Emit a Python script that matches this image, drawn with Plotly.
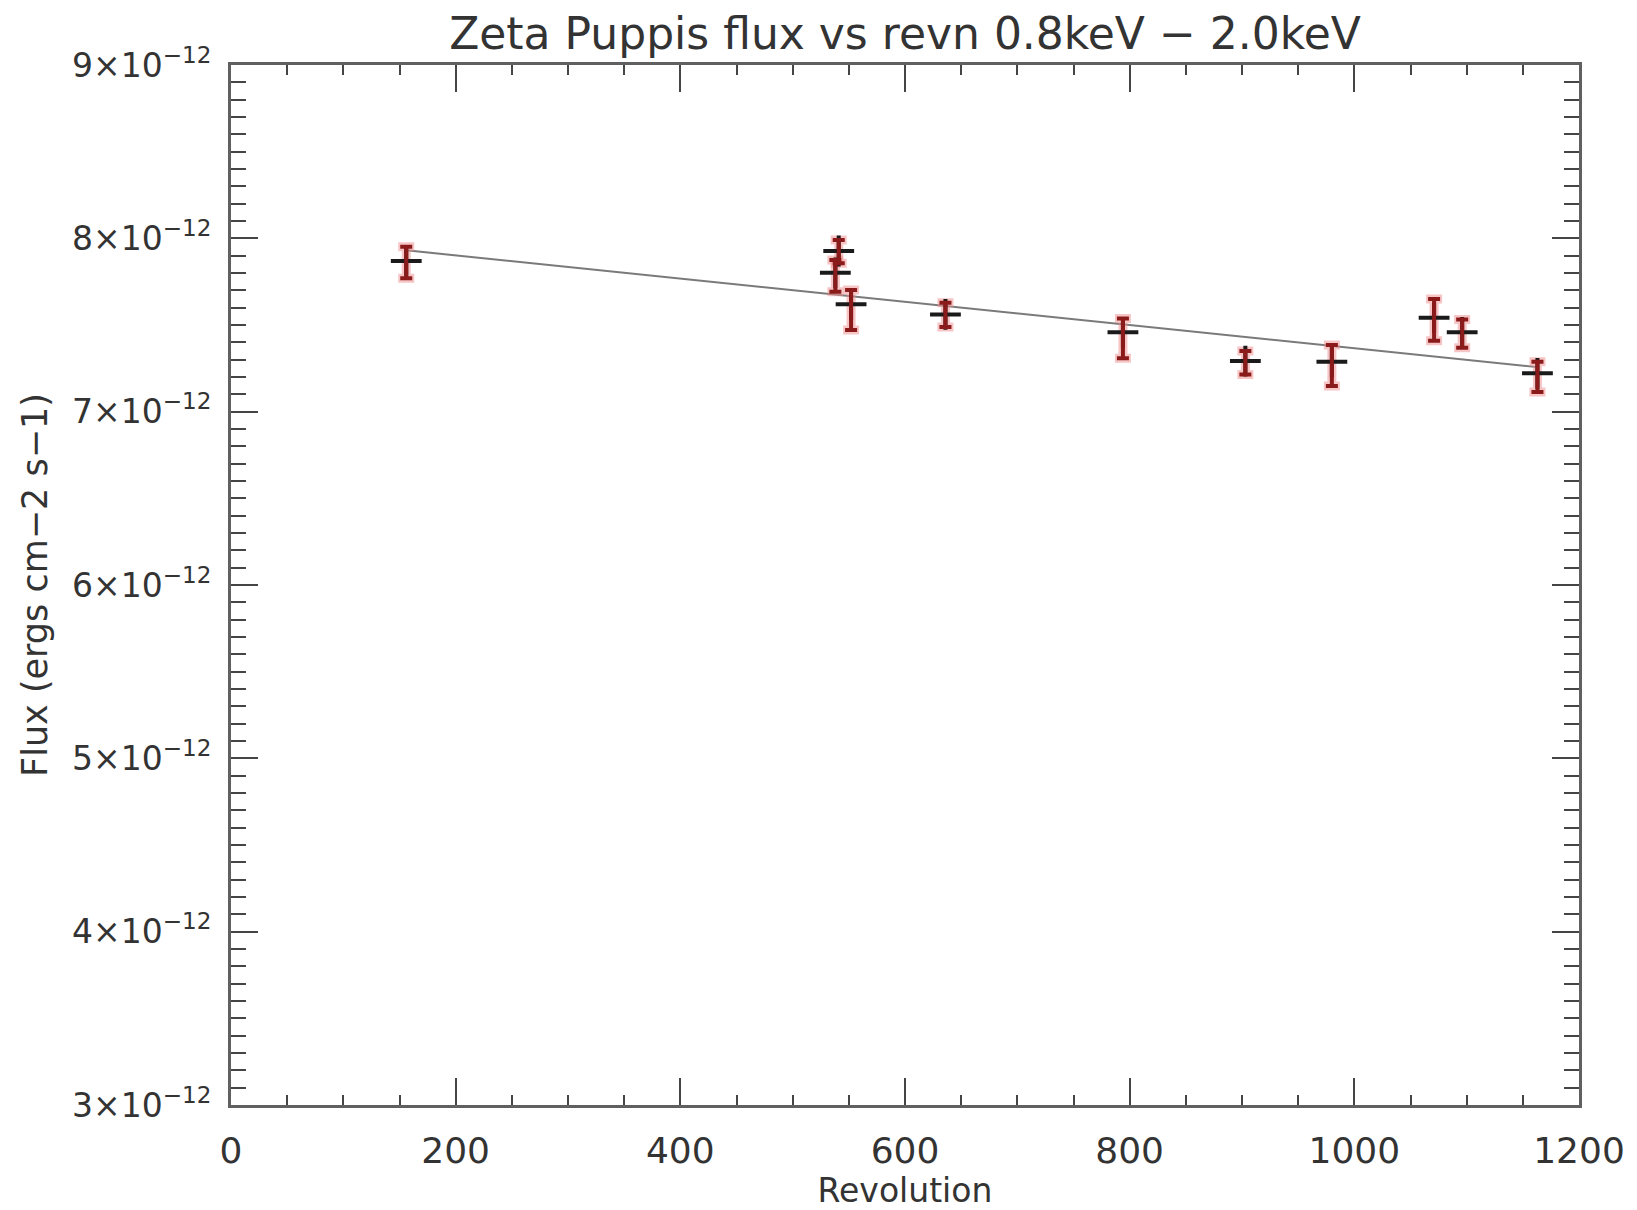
import plotly.graph_objects as go

# Data (flux in units of 1e-12 ergs cm^-2 s^-1)
revolution = [156, 538, 541, 552, 636, 794, 903, 980, 1071, 1096, 1163]
flux = [7.869, 7.801, 7.927, 7.619, 7.561, 7.458, 7.292, 7.288, 7.542, 7.458, 7.221]
err_plus = [0.082, 0.074, 0.063, 0.083, 0.068, 0.080, 0.058, 0.096, 0.108, 0.074, 0.067]
err_minus = [0.100, 0.109, 0.071, 0.148, 0.073, 0.150, 0.077, 0.140, 0.133, 0.089, 0.108]

# Linear fit line endpoints
fit_rev = [156, 1163]
fit_flux = [7.931, 7.257]

y_tickvals = [3, 4, 5, 6, 7, 8, 9]
y_ticktext = [f"{v}×10<sup>−12</sup>" for v in y_tickvals]

title_text = "Zeta Puppis flux vs revn 0.8keV − 2.0keV"
x_title = "Revolution"
y_title = "Flux (ergs cm−2 s−1)"

FONT = "DejaVu Sans"
TXT = "#333333"

fig = go.Figure()

fig.add_trace(go.Scatter(
    x=fit_rev, y=fit_flux, mode="lines",
    line=dict(color="#7a7a7a", width=2), showlegend=False, hoverinfo="skip"))

# pink halo of error bars
fig.add_trace(go.Scatter(
    x=revolution, y=flux, mode="markers",
    marker=dict(size=1, color="rgba(0,0,0,0)"),
    error_y=dict(type="data", symmetric=False, array=err_plus, arrayminus=err_minus,
                 color="rgba(240,140,140,0.5)", thickness=9, width=8),
    showlegend=False, hoverinfo="skip"))

# black crosses
fig.add_trace(go.Scatter(
    x=revolution, y=flux, mode="markers",
    marker=dict(symbol="cross-thin", size=22, color="#1a1a1a",
                line=dict(width=4, color="#1a1a1a")),
    showlegend=False))

# dark red error bars
fig.add_trace(go.Scatter(
    x=revolution, y=flux, mode="markers",
    marker=dict(size=1, color="rgba(0,0,0,0)"),
    error_y=dict(type="data", symmetric=False, array=err_plus, arrayminus=err_minus,
                 color="#8b1a1a", thickness=4, width=6),
    showlegend=False, hoverinfo="skip"))

axis_common = dict(
    showline=True, linecolor="#606060", linewidth=3, mirror="allticks",
    ticks="inside", tickcolor="#454545", tickwidth=2,
    showgrid=False, zeroline=False,
)

fig.update_layout(
    width=1637, height=1210,
    margin=dict(l=231, r=52, t=65, b=105),
    paper_bgcolor="white", plot_bgcolor="white",
    font=dict(family=FONT, color=TXT),
    title=dict(text=title_text, x=0.5, xref="paper", y=1 - 34 / 1210, yref="container",
               xanchor="center", yanchor="middle",
               font=dict(family=FONT, size=44, color=TXT)),
    xaxis=dict(
        range=[0, 1200], tickmode="linear", tick0=0, dtick=200, ticklen=27,
        minor=dict(dtick=50, ticklen=10, ticks="inside", tickcolor="#454545", tickwidth=2),
        tickfont=dict(family=FONT, size=36, color=TXT),
        title=dict(text=x_title, font=dict(family=FONT, size=33, color=TXT), standoff=2),
        ticklabelstandoff=12,
        **axis_common),
    yaxis=dict(
        range=[3, 9], tickmode="array", tickvals=y_tickvals, ticktext=y_ticktext, ticklen=27,
        minor=dict(dtick=0.1, ticklen=15, ticks="inside", tickcolor="#454545", tickwidth=2),
        tickfont=dict(family=FONT, size=33, color=TXT),
        title=dict(text=y_title, font=dict(family=FONT, size=35, color=TXT), standoff=14),
        ticklabelstandoff=10,
        **axis_common),
)

fig.write_html("out.html")
